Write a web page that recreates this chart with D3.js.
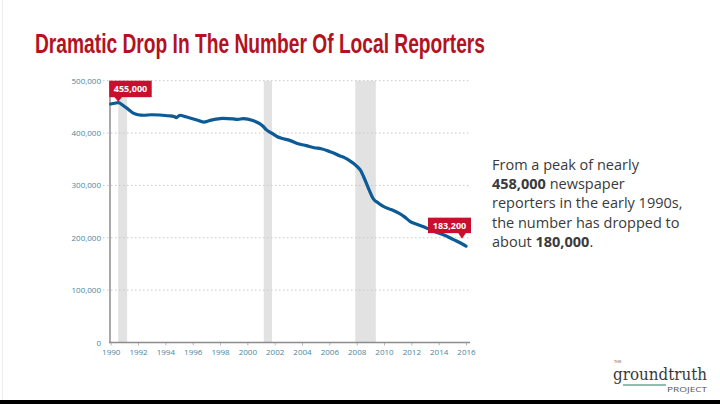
<!DOCTYPE html>
<html><head><meta charset="utf-8">
<script src="https://cdn.jsdelivr.net/npm/d3@7"></script>
<style>
html,body{margin:0;padding:0;background:#fff;}
svg{display:block;}
</style></head>
<body>
<svg id="chart" width="720" height="404"></svg>
<script>
// ---- data ----
const years = [1990.0,1990.3,1990.55,1990.9,1991.3,1991.65,1992.0,1992.4,1993.0,1993.6,1994.2,1994.6,1994.8,1995.06,1995.5,1995.8,1996.3,1996.8,1997.25,1997.7,1998.2,1998.95,1999.3,1999.7,2000.4,2000.9,2001.15,2001.4,2001.9,2002.2,2002.5,2003.1,2003.8,2004.3,2004.9,2005.4,2006.0,2006.4,2006.7,2007.1,2007.45,2008.0,2008.3,2008.5,2008.9,2009.2,2009.6,2009.95,2010.5,2011.05,2011.5,2011.9,2012.4,2012.9,2013.5,2014.0,2014.6,2015.1,2015.6,2016.0];
const reporters = [455500,457000,458000,453000,445000,438000,435000,434000,435000,434500,433000,432000,429500,434000,431000,428800,425000,421000,424000,426500,428000,427000,426000,427500,424000,418000,413000,406000,398000,393000,390000,386000,379000,376000,372000,370000,365000,361000,357000,353000,348000,337000,328000,317000,292000,275000,266000,260000,254000,247500,240000,231500,226000,221000,214000,209000,203000,196500,190000,184000];
const recessionStarts = [1990.55, 2001.2, 2007.9];
const recessionEnds   = [1991.2, 2001.8, 2009.4];
const yTicks = [0,100000,200000,300000,400000,500000];
const xTicks = [1990,1992,1994,1996,1998,2000,2002,2004,2006,2008,2010,2012,2014,2016];
const calloutYears  = [1990.55, 2016.0];
const calloutValues = [458000, 184000];
const calloutTexts  = ["455,000", "183,200"];
const titleText = "Dramatic Drop In The Number Of Local Reporters";

// ---- drawing ----
const svg = d3.select("#chart");
const x = d3.scaleLinear().domain([1990, 2016]).range([110.7, 466]);
const y = d3.scaleLinear().domain([0, 500000]).range([342.5, 80.7]);

// left faint edge and bottom black band
svg.append("line").attr("x1",2.5).attr("x2",2.5).attr("y1",0).attr("y2",400)
  .attr("stroke","#ececec").attr("stroke-width",1);
svg.append("rect").attr("x",0).attr("y",400).attr("width",720).attr("height",4).attr("fill","#000");

// title
svg.append("text").attr("x",35).attr("y",53)
  .attr("font-family","'Liberation Sans Narrow','Liberation Sans',sans-serif")
  .attr("font-weight","bold").attr("font-size",28).attr("fill","#b3121f")
  .attr("textLength",450).attr("lengthAdjust","spacingAndGlyphs")
  .text(titleText);

// recession bands
svg.append("g").selectAll("rect").data(recessionStarts).join("rect")
  .attr("x",(d)=>x(d)).attr("width",(d,i)=>x(recessionEnds[i])-x(d))
  .attr("y",y(500000)).attr("height",y(0)-y(500000))
  .attr("fill","#e2e2e2");

// gridlines
svg.append("g").selectAll("line").data(yTicks.filter(d=>d>0)).join("line")
  .attr("x1",103).attr("x2",471).attr("y1",d=>y(d)).attr("y2",d=>y(d))
  .attr("stroke","#c8c8c8").attr("stroke-width",1).attr("stroke-dasharray","1.5,2.5");

// y axis labels
const yAxis = d3.axisLeft(y).tickValues(yTicks).tickSize(0).tickPadding(9)
  .tickFormat(d3.format(","));
const gy = svg.append("g").attr("transform","translate(110,0)").call(yAxis);
gy.select(".domain").remove();
gy.selectAll("text").attr("font-family","'Open Sans',sans-serif").attr("font-size",8)
  .attr("fill","#4a86a0");

// x axis
const xAxis = d3.axisBottom(x).tickValues(xTicks).tickSize(3).tickPadding(4)
  .tickFormat(d3.format("d"));
const gx = svg.append("g").attr("transform",`translate(0,${y(0)})`).call(xAxis);
gx.select(".domain").remove();
gx.selectAll(".tick line").attr("stroke","#bbb");
gx.selectAll("text").attr("font-family","'Open Sans',sans-serif").attr("font-size",8)
  .attr("fill","#4a86a0");

// axis lines
svg.append("line").attr("x1",109).attr("x2",470).attr("y1",y(0)).attr("y2",y(0))
  .attr("stroke","#8c8c8c").attr("stroke-width",1.5);
svg.append("line").attr("x1",110).attr("x2",110).attr("y1",y(500000)).attr("y2",y(0))
  .attr("stroke","#8c8c8c").attr("stroke-width",1.5);

// line
const line = d3.line().x((d,i)=>x(years[i])).y(d=>y(d)).curve(d3.curveMonotoneX);
svg.append("path").datum(reporters).attr("d",line)
  .attr("fill","none").attr("stroke","#0c5a96").attr("stroke-width",3.2)
  .attr("stroke-linejoin","round").attr("stroke-linecap","round");

// callouts
const calloutBox = [
  {dx:-9, dy:-22, w:42.5, h:16.5, tipDx:0, tipDy:-1},
  {dx:-38, dy:-28.5, w:43, h:15.5, tipDx:-4, tipDy:-7.5}
];
calloutTexts.forEach((t,i)=>{
  const px = x(calloutYears[i]), py = y(calloutValues[i]);
  const b = calloutBox[i];
  const g = svg.append("g");
  const tx = px + b.tipDx, ty = py + b.tipDy;
  const bx = px + b.dx, by = py + b.dy;
  g.append("rect").attr("x",bx).attr("y",by).attr("width",b.w).attr("height",b.h).attr("fill","#c8102e");
  g.append("path").attr("d",`M${tx-4},${by+b.h-0.5} L${tx},${ty} L${tx+4},${by+b.h-0.5} Z`).attr("fill","#c8102e");
  g.append("text").attr("x",bx+b.w/2).attr("y",by+b.h/2+3.2).attr("text-anchor","middle")
    .attr("font-family","'Open Sans',sans-serif").attr("font-weight","bold").attr("font-size",9)
    .attr("fill","#fff").text(t);
});

// side text
const sideLines = [
  [["From a peak of nearly",false]],
  [["458,000",true],[" newspaper",false]],
  [["reporters in the early 1990s,",false]],
  [["the number has dropped to",false]],
  [["about ",false],["180,000",true],[".",false]]
];
sideLines.forEach((ln,i)=>{
  const t = svg.append("text").attr("x",492).attr("y",170+i*19.2)
    .attr("font-family","'Open Sans',sans-serif").attr("font-size",14.5).attr("fill","#3a3a3a");
  ln.forEach(([s,b])=>t.append("tspan").attr("font-weight",b?"bold":"normal").text(s));
});

// logo
svg.append("text").attr("x",614).attr("y",363).attr("font-family","'Open Sans',sans-serif")
  .attr("font-size",4).attr("fill","#444").text("THE");
svg.append("text").attr("x",613).attr("y",380).attr("font-family","'DejaVu Serif',serif")
  .attr("font-size",17).attr("fill","#3a3a3a").attr("textLength",94).attr("lengthAdjust","spacingAndGlyphs")
  .text("groundtruth");
svg.append("line").attr("x1",623).attr("x2",666).attr("y1",385).attr("y2",385)
  .attr("stroke","#6aa890").attr("stroke-width",1.3);
svg.append("text").attr("x",667).attr("y",392).attr("font-family","'Open Sans',sans-serif")
  .attr("font-size",8).attr("fill","#555").attr("textLength",40).attr("lengthAdjust","spacingAndGlyphs")
  .text("PROJECT");
</script>
</body></html>
